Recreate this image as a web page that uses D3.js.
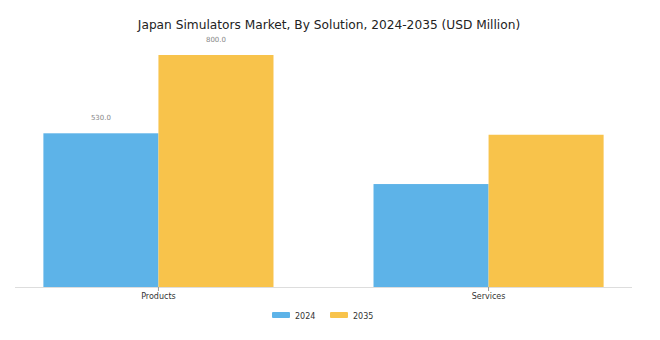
<!DOCTYPE html>
<html>
<head>
<meta charset="utf-8">
<script src="https://cdn.jsdelivr.net/npm/d3@7"></script>
<style>
  html, body { margin: 0; padding: 0; background: #fff; }
  svg { display: block; font-family: "DejaVu Sans", sans-serif; }
</style>
</head>
<body>
<svg id="chart" width="660" height="340"></svg>
<script>
const categories = ["Products", "Services"];
const seriesNames = ["2024", "2035"];
const values2024 = [530, 355];
const values2035 = [800, 525];
const labels2024 = ["530.0", null];
const labels2035 = ["800.0", null];
const colors = ["#5DB3E8", "#F8C34B"];
const title = "Japan Simulators Market, By Solution, 2024-2035 (USD Million)";

const svg = d3.select("#chart");
const baseY = 287;

const x0 = d3.scaleBand().domain(categories).range([15, 632])
  .paddingInner(0.303).paddingOuter(0.086);
const x1 = d3.scaleBand().domain(seriesNames).range([0, x0.bandwidth()]).padding(0);
const y = d3.scaleLinear().domain([0, 800]).range([baseY, 55]);
const color = d3.scaleOrdinal().domain(seriesNames).range(colors);

const data = categories.map((c, i) => ({
  cat: c,
  vals: [
    { s: "2024", v: values2024[i], label: labels2024[i] },
    { s: "2035", v: values2035[i], label: labels2035[i] }
  ]
}));

svg.append("text")
  .attr("x", 329).attr("y", 29)
  .attr("text-anchor", "middle")
  .attr("font-size", 12.2)
  .attr("fill", "#222")
  .text(title);

const groups = svg.selectAll("g.grp").data(data).join("g")
  .attr("class", "grp")
  .attr("transform", d => `translate(${x0(d.cat)},0)`);

groups.selectAll("rect").data(d => d.vals).join("rect")
  .attr("x", d => x1(d.s))
  .attr("y", d => y(d.v))
  .attr("width", x1.bandwidth())
  .attr("height", d => baseY - y(d.v))
  .attr("fill", d => color(d.s));

groups.selectAll("text.val").data(d => d.vals.filter(v => v.label)).join("text")
  .attr("class", "val")
  .attr("x", d => x1(d.s) + x1.bandwidth() / 2)
  .attr("y", d => y(d.v) - 13)
  .attr("text-anchor", "middle")
  .attr("font-size", 7)
  .attr("fill", "#888")
  .text(d => d.label);

// axis
const axis = svg.append("g").attr("transform", `translate(0,${baseY})`)
  .call(d3.axisBottom(x0).tickSize(4).tickSizeOuter(0));
axis.select(".domain").attr("stroke", "#ddd").attr("d", "M15,0.5H632");
axis.selectAll(".tick line").attr("stroke", "#999");
axis.selectAll(".tick text")
  .attr("font-family", "'DejaVu Sans', sans-serif")
  .attr("font-size", 8)
  .attr("fill", "#333")
  .attr("dy", "0.9em")
  .attr("y", 5);

// legend
const legend = svg.append("g");
const legendItems = [
  { name: seriesNames[0], x: 272 },
  { name: seriesNames[1], x: 330 }
];
legendItems.forEach(it => {
  legend.append("rect")
    .attr("x", it.x).attr("y", 312)
    .attr("width", 18).attr("height", 6)
    .attr("rx", 1)
    .attr("fill", color(it.name));
  legend.append("text")
    .attr("x", it.x + 23).attr("y", 318.5)
    .attr("font-size", 8)
    .attr("fill", "#333")
    .text(it.name);
});
</script>
</body>
</html>
